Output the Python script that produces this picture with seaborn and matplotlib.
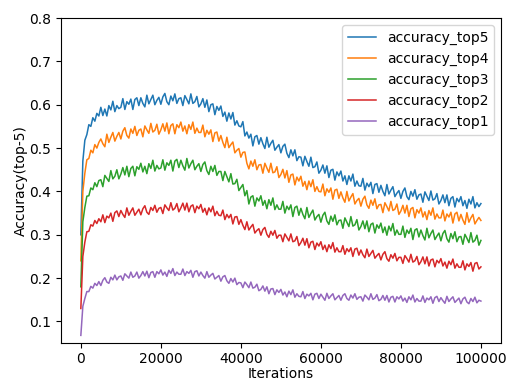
import numpy as np
import pandas as pd
import matplotlib
matplotlib.use("Agg")
import matplotlib.pyplot as plt
import seaborn as sns

iterations = list(range(0, 100001, 500))

accuracy_top5 = [
    0.300, 0.470, 0.518, 0.531, 0.554, 0.550, 0.570, 0.562, 0.580, 0.574,
    0.594, 0.575, 0.590, 0.574, 0.598, 0.588, 0.608, 0.584, 0.598, 0.591,
    0.594, 0.614, 0.589, 0.607, 0.601, 0.613, 0.589, 0.612, 0.616, 0.598,
    0.616, 0.603, 0.595, 0.622, 0.602, 0.612, 0.622, 0.600, 0.610, 0.617,
    0.601, 0.618, 0.626, 0.607, 0.600, 0.620, 0.609, 0.625, 0.603, 0.614,
    0.616, 0.598, 0.621, 0.612, 0.602, 0.625, 0.603, 0.607, 0.619, 0.595,
    0.602, 0.614, 0.594, 0.611, 0.584, 0.600, 0.602, 0.577, 0.596, 0.587,
    0.597, 0.573, 0.583, 0.562, 0.581, 0.567, 0.582, 0.553, 0.563, 0.551,
    0.549, 0.561, 0.528, 0.537, 0.523, 0.532, 0.505, 0.526, 0.529, 0.509,
    0.524, 0.510, 0.499, 0.525, 0.502, 0.511, 0.518, 0.495, 0.502, 0.508,
    0.489, 0.504, 0.509, 0.488, 0.478, 0.496, 0.482, 0.496, 0.471, 0.480,
    0.479, 0.459, 0.481, 0.469, 0.458, 0.479, 0.455, 0.457, 0.468, 0.442,
    0.449, 0.461, 0.442, 0.459, 0.432, 0.449, 0.451, 0.426, 0.445, 0.436,
    0.447, 0.424, 0.436, 0.416, 0.436, 0.424, 0.440, 0.412, 0.424, 0.413,
    0.412, 0.430, 0.403, 0.419, 0.411, 0.421, 0.395, 0.416, 0.418, 0.398,
    0.414, 0.400, 0.390, 0.416, 0.394, 0.403, 0.411, 0.388, 0.396, 0.402,
    0.384, 0.400, 0.408, 0.388, 0.381, 0.400, 0.389, 0.404, 0.382, 0.392,
    0.394, 0.375, 0.399, 0.389, 0.379, 0.401, 0.380, 0.383, 0.395, 0.371,
    0.379, 0.392, 0.374, 0.392, 0.367, 0.384, 0.388, 0.364, 0.384, 0.376,
    0.388, 0.367, 0.379, 0.361, 0.382, 0.371, 0.388, 0.362, 0.374, 0.365,
    0.372,
]

accuracy_top4 = [
    0.240, 0.400, 0.442, 0.473, 0.476, 0.495, 0.489, 0.508, 0.500, 0.513,
    0.521, 0.510, 0.503, 0.532, 0.513, 0.525, 0.536, 0.516, 0.527, 0.536,
    0.521, 0.539, 0.547, 0.529, 0.523, 0.544, 0.534, 0.550, 0.529, 0.541,
    0.544, 0.526, 0.551, 0.542, 0.534, 0.557, 0.537, 0.541, 0.555, 0.532,
    0.542, 0.556, 0.539, 0.558, 0.533, 0.552, 0.556, 0.533, 0.554, 0.547,
    0.560, 0.539, 0.551, 0.533, 0.554, 0.543, 0.560, 0.534, 0.546, 0.536,
    0.536, 0.553, 0.526, 0.541, 0.532, 0.542, 0.515, 0.535, 0.537, 0.516,
    0.529, 0.513, 0.501, 0.525, 0.501, 0.508, 0.514, 0.489, 0.495, 0.499,
    0.479, 0.490, 0.491, 0.465, 0.452, 0.470, 0.458, 0.473, 0.450, 0.461,
    0.462, 0.442, 0.465, 0.454, 0.444, 0.465, 0.443, 0.445, 0.457, 0.432,
    0.439, 0.451, 0.431, 0.448, 0.421, 0.438, 0.440, 0.415, 0.433, 0.424,
    0.435, 0.412, 0.423, 0.404, 0.424, 0.411, 0.427, 0.400, 0.411, 0.400,
    0.399, 0.417, 0.390, 0.406, 0.398, 0.408, 0.382, 0.403, 0.405, 0.384,
    0.399, 0.385, 0.375, 0.400, 0.378, 0.387, 0.395, 0.371, 0.379, 0.384,
    0.366, 0.382, 0.389, 0.369, 0.361, 0.380, 0.368, 0.383, 0.360, 0.369,
    0.370, 0.351, 0.374, 0.365, 0.355, 0.377, 0.356, 0.359, 0.371, 0.347,
    0.355, 0.368, 0.350, 0.368, 0.342, 0.360, 0.363, 0.339, 0.358, 0.350,
    0.362, 0.341, 0.353, 0.335, 0.356, 0.345, 0.362, 0.336, 0.348, 0.339,
    0.339, 0.357, 0.332, 0.348, 0.341, 0.352, 0.327, 0.348, 0.352, 0.332,
    0.347, 0.334, 0.324, 0.351, 0.329, 0.339, 0.347, 0.325, 0.333, 0.340,
    0.333,
]

accuracy_top3 = [
    0.180, 0.330, 0.363, 0.389, 0.390, 0.408, 0.404, 0.420, 0.411, 0.425,
    0.427, 0.411, 0.437, 0.430, 0.423, 0.448, 0.429, 0.435, 0.450, 0.429,
    0.440, 0.455, 0.438, 0.458, 0.434, 0.453, 0.458, 0.436, 0.457, 0.451,
    0.465, 0.445, 0.458, 0.441, 0.464, 0.453, 0.472, 0.447, 0.460, 0.452,
    0.454, 0.473, 0.449, 0.466, 0.460, 0.472, 0.447, 0.470, 0.474, 0.455,
    0.472, 0.459, 0.449, 0.476, 0.454, 0.464, 0.472, 0.450, 0.458, 0.464,
    0.446, 0.462, 0.468, 0.448, 0.439, 0.458, 0.446, 0.460, 0.437, 0.446,
    0.446, 0.425, 0.446, 0.434, 0.422, 0.441, 0.417, 0.418, 0.428, 0.402,
    0.409, 0.416, 0.390, 0.402, 0.371, 0.387, 0.390, 0.366, 0.385, 0.378,
    0.390, 0.368, 0.379, 0.360, 0.381, 0.368, 0.385, 0.358, 0.369, 0.359,
    0.359, 0.377, 0.350, 0.366, 0.358, 0.369, 0.342, 0.363, 0.366, 0.345,
    0.361, 0.347, 0.337, 0.363, 0.340, 0.349, 0.357, 0.334, 0.342, 0.347,
    0.329, 0.345, 0.352, 0.332, 0.324, 0.343, 0.331, 0.346, 0.323, 0.333,
    0.334, 0.315, 0.339, 0.329, 0.319, 0.342, 0.320, 0.323, 0.335, 0.311,
    0.319, 0.332, 0.314, 0.332, 0.307, 0.324, 0.327, 0.304, 0.323, 0.315,
    0.327, 0.305, 0.318, 0.299, 0.320, 0.309, 0.326, 0.299, 0.311, 0.301,
    0.301, 0.320, 0.294, 0.311, 0.303, 0.315, 0.289, 0.311, 0.314, 0.295,
    0.311, 0.298, 0.288, 0.315, 0.293, 0.303, 0.311, 0.289, 0.297, 0.304,
    0.286, 0.303, 0.310, 0.291, 0.283, 0.303, 0.291, 0.307, 0.284, 0.295,
    0.296, 0.278, 0.301, 0.292, 0.282, 0.305, 0.283, 0.287, 0.299, 0.276,
    0.287,
]

accuracy_top2 = [
    0.130, 0.250, 0.283, 0.307, 0.308, 0.323, 0.320, 0.333, 0.326, 0.337,
    0.330, 0.346, 0.328, 0.343, 0.339, 0.350, 0.331, 0.351, 0.355, 0.342,
    0.356, 0.347, 0.340, 0.362, 0.345, 0.354, 0.362, 0.345, 0.352, 0.359,
    0.346, 0.360, 0.367, 0.352, 0.347, 0.363, 0.356, 0.368, 0.352, 0.361,
    0.363, 0.349, 0.369, 0.362, 0.356, 0.374, 0.357, 0.361, 0.372, 0.353,
    0.362, 0.373, 0.357, 0.373, 0.353, 0.366, 0.369, 0.351, 0.366, 0.360,
    0.370, 0.352, 0.361, 0.346, 0.362, 0.353, 0.366, 0.344, 0.354, 0.345,
    0.344, 0.357, 0.335, 0.347, 0.339, 0.347, 0.325, 0.341, 0.342, 0.324,
    0.335, 0.322, 0.312, 0.330, 0.311, 0.318, 0.324, 0.304, 0.310, 0.314,
    0.299, 0.312, 0.317, 0.301, 0.294, 0.308, 0.299, 0.310, 0.292, 0.299,
    0.299, 0.284, 0.302, 0.294, 0.286, 0.302, 0.284, 0.286, 0.296, 0.275,
    0.282, 0.292, 0.276, 0.291, 0.270, 0.283, 0.285, 0.266, 0.281, 0.274,
    0.284, 0.266, 0.276, 0.261, 0.277, 0.268, 0.282, 0.260, 0.270, 0.261,
    0.261, 0.275, 0.255, 0.268, 0.261, 0.270, 0.250, 0.267, 0.269, 0.253,
    0.265, 0.254, 0.247, 0.267, 0.250, 0.257, 0.264, 0.246, 0.252, 0.257,
    0.242, 0.255, 0.261, 0.245, 0.239, 0.254, 0.246, 0.257, 0.240, 0.248,
    0.248, 0.234, 0.252, 0.245, 0.237, 0.255, 0.237, 0.240, 0.250, 0.231,
    0.238, 0.249, 0.233, 0.249, 0.228, 0.242, 0.244, 0.226, 0.241, 0.235,
    0.245, 0.228, 0.237, 0.223, 0.239, 0.231, 0.244, 0.223, 0.233, 0.225,
    0.225, 0.240, 0.219, 0.233, 0.227, 0.236, 0.216, 0.234, 0.236, 0.221,
    0.226,
]

accuracy_top1 = [
    0.068, 0.135, 0.153, 0.169, 0.169, 0.181, 0.177, 0.188, 0.183, 0.192,
    0.183, 0.195, 0.201, 0.191, 0.188, 0.202, 0.196, 0.207, 0.196, 0.203,
    0.205, 0.195, 0.210, 0.205, 0.200, 0.214, 0.202, 0.205, 0.214, 0.200,
    0.206, 0.215, 0.205, 0.216, 0.201, 0.213, 0.215, 0.202, 0.215, 0.210,
    0.219, 0.207, 0.214, 0.204, 0.218, 0.211, 0.222, 0.206, 0.214, 0.209,
    0.209, 0.221, 0.206, 0.215, 0.211, 0.218, 0.202, 0.215, 0.217, 0.205,
    0.214, 0.206, 0.200, 0.215, 0.202, 0.207, 0.211, 0.198, 0.202, 0.206,
    0.193, 0.203, 0.206, 0.194, 0.188, 0.199, 0.191, 0.200, 0.185, 0.190,
    0.189, 0.178, 0.191, 0.185, 0.178, 0.191, 0.177, 0.179, 0.186, 0.171,
    0.174, 0.182, 0.170, 0.180, 0.164, 0.175, 0.176, 0.162, 0.173, 0.167,
    0.174, 0.161, 0.168, 0.157, 0.170, 0.162, 0.173, 0.156, 0.164, 0.158,
    0.157, 0.169, 0.153, 0.163, 0.159, 0.165, 0.150, 0.163, 0.165, 0.153,
    0.163, 0.156, 0.149, 0.165, 0.153, 0.159, 0.164, 0.150, 0.155, 0.160,
    0.149, 0.160, 0.164, 0.153, 0.149, 0.161, 0.154, 0.164, 0.151, 0.156,
    0.157, 0.147, 0.161, 0.156, 0.150, 0.164, 0.151, 0.154, 0.162, 0.148,
    0.151, 0.160, 0.149, 0.160, 0.145, 0.156, 0.158, 0.145, 0.157, 0.152,
    0.159, 0.147, 0.154, 0.144, 0.157, 0.150, 0.161, 0.145, 0.153, 0.147,
    0.147, 0.159, 0.144, 0.154, 0.150, 0.157, 0.142, 0.155, 0.158, 0.146,
    0.155, 0.148, 0.142, 0.158, 0.146, 0.152, 0.157, 0.144, 0.149, 0.154,
    0.141, 0.152, 0.156, 0.145, 0.141, 0.153, 0.146, 0.156, 0.143, 0.149,
    0.147,
]

series_names = ["accuracy_top5", "accuracy_top4", "accuracy_top3",
                "accuracy_top2", "accuracy_top1"]
series_values = [accuracy_top5, accuracy_top4, accuracy_top3,
                 accuracy_top2, accuracy_top1]
colors = ["#1f77b4", "#ff7f0e", "#2ca02c", "#d62728", "#9467bd"]

fig, ax = plt.subplots(figsize=(5.07, 3.83), dpi=100)
fig.subplots_adjust(left=0.12, right=0.988, top=0.953, bottom=0.104)

for name, vals, col in zip(series_names, series_values, colors):
    df = pd.DataFrame({"Iterations": iterations, "value": vals})
    sns.lineplot(data=df, x="Iterations", y="value", ax=ax, color=col,
                 label=name, linewidth=1.1, estimator=None)

ax.set_ylim(0.05, 0.8)
ax.set_xlabel("Iterations", labelpad=1)
ax.set_ylabel("Accuracy(top-5)", labelpad=1)
ax.tick_params(axis="x", pad=2.5)
ax.legend(loc="upper right")

fig.savefig("out.png", dpi=100)
